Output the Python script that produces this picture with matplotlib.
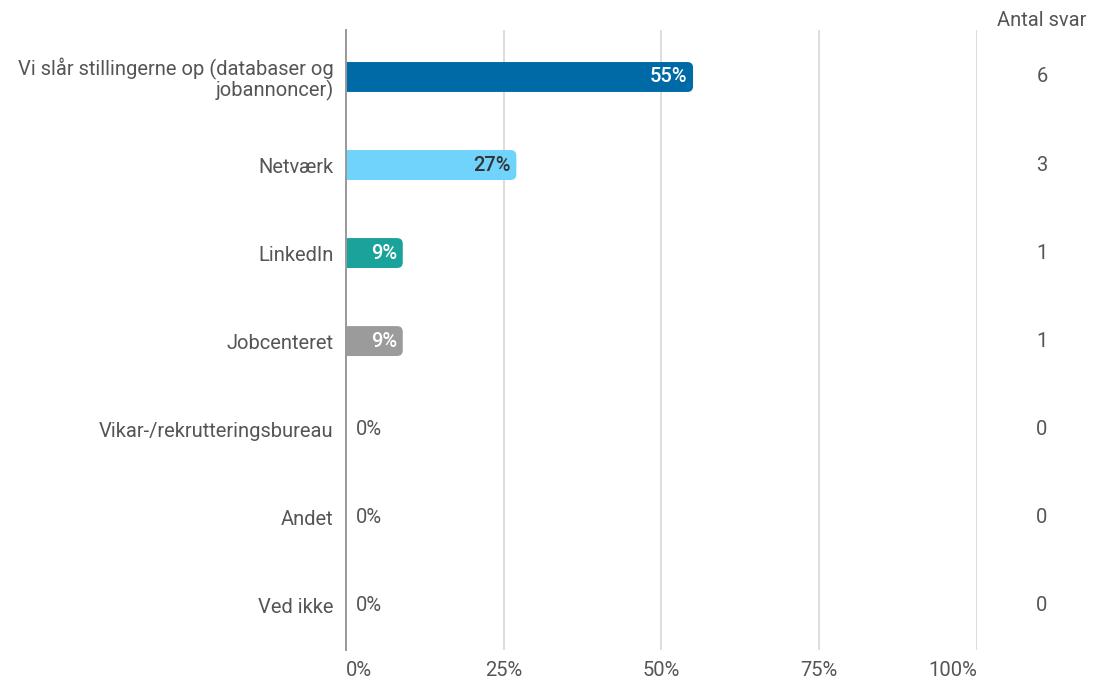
import matplotlib.pyplot as plt
from matplotlib.patches import FancyBboxPatch
from matplotlib.transforms import blended_transform_factory, offset_copy

# -----------------------------
# DATA
# -----------------------------
categories = [
    "Vi slår stillingerne op (databaser og\njobannoncer)",
    "Netværk",
    "LinkedIn",
    "Jobcenteret",
    "Vikar-/rekrutteringsbureau",
    "Andet",
    "Ved ikke",
]
percent = [55, 27, 9, 9, 0, 0, 0]
counts = [6, 3, 1, 1, 0, 0, 0]
bar_colors = ["#006aa7", "#6fd3fb", "#1aa39a", "#9b9b9b", "#9b9b9b", "#9b9b9b", "#9b9b9b"]
label_colors = ["white", "#333333", "white", "white", "#555555", "#555555", "#555555"]
xticks = [0, 25, 50, 75, 100]
xtick_labels = ["0%", "25%", "50%", "75%", "100%"]

plt.rcParams["font.family"] = ["Roboto", "DejaVu Sans"]
text_color = "#555555"
fs = 14.5

fig = plt.figure(figsize=(10.99, 6.91), dpi=100)
ax = fig.add_axes([0.3148, 0.0593, 0.5742, 0.8973])

ax.set_xlim(0, 100)
ax.set_ylim(len(categories) - 0.49, -0.534)

# grid
for t in xticks[1:]:
    ax.axvline(t, color="#dddddd", lw=1.4, zorder=0)

for s in ["top", "right", "bottom"]:
    ax.spines[s].set_visible(False)
ax.spines["left"].set_color("#999999")
ax.spines["left"].set_linewidth(1.4)
ax.spines["left"].set_zorder(3)

# bars (rounded, drawn from data)
bar_h = 0.34
aspect = (1 / 88) / (1 / 6.31)
for i, (p, c) in enumerate(zip(percent, bar_colors)):
    if p <= 0:
        continue
    box = FancyBboxPatch((-3, i - bar_h / 2), p + 3, bar_h,
                         boxstyle="round,pad=0,rounding_size=0.9",
                         mutation_aspect=aspect, fc=c, ec="none", zorder=2)
    ax.add_patch(box)

# value labels
for i, (p, lc) in enumerate(zip(percent, label_colors)):
    if p > 0:
        tr = offset_copy(ax.transData, fig=fig, x=-4, y=0, units="points")
        ax.text(p, i, f"{p}%", ha="right", va="center", color=lc,
                fontsize=fs, fontweight="medium", transform=tr, zorder=4)
    else:
        tr = offset_copy(ax.transData, fig=fig, x=7, y=0, units="points")
        ax.text(p, i, f"{p}%", ha="left", va="center", color=lc,
                fontsize=fs, transform=tr, zorder=4)

# y labels
ax.set_yticks(range(len(categories)))
ax.set_yticklabels(categories, fontsize=fs, color=text_color, linespacing=1.0)
ax.tick_params(axis="y", length=0, pad=9)

# x labels
ax.set_xticks(xticks)
ax.set_xticklabels(xtick_labels, fontsize=fs, color=text_color)
ax.tick_params(axis="x", length=0, pad=8)
xl = ax.get_xticklabels()
xl[0].set_ha("left")
xl[-1].set_ha("right")

# counts column
trc = blended_transform_factory(fig.transFigure, ax.transData)
cx = 1042 / 1099
for i, n in enumerate(counts):
    ax.text(cx, i, str(n), ha="center", va="center", fontsize=fs,
            color=text_color, transform=trc, clip_on=False)
fig.text(cx, 1 - 20 / 691, "Antal svar", ha="center", va="center",
         fontsize=fs, color=text_color)

fig.savefig("out.png", dpi=100, facecolor="white")
